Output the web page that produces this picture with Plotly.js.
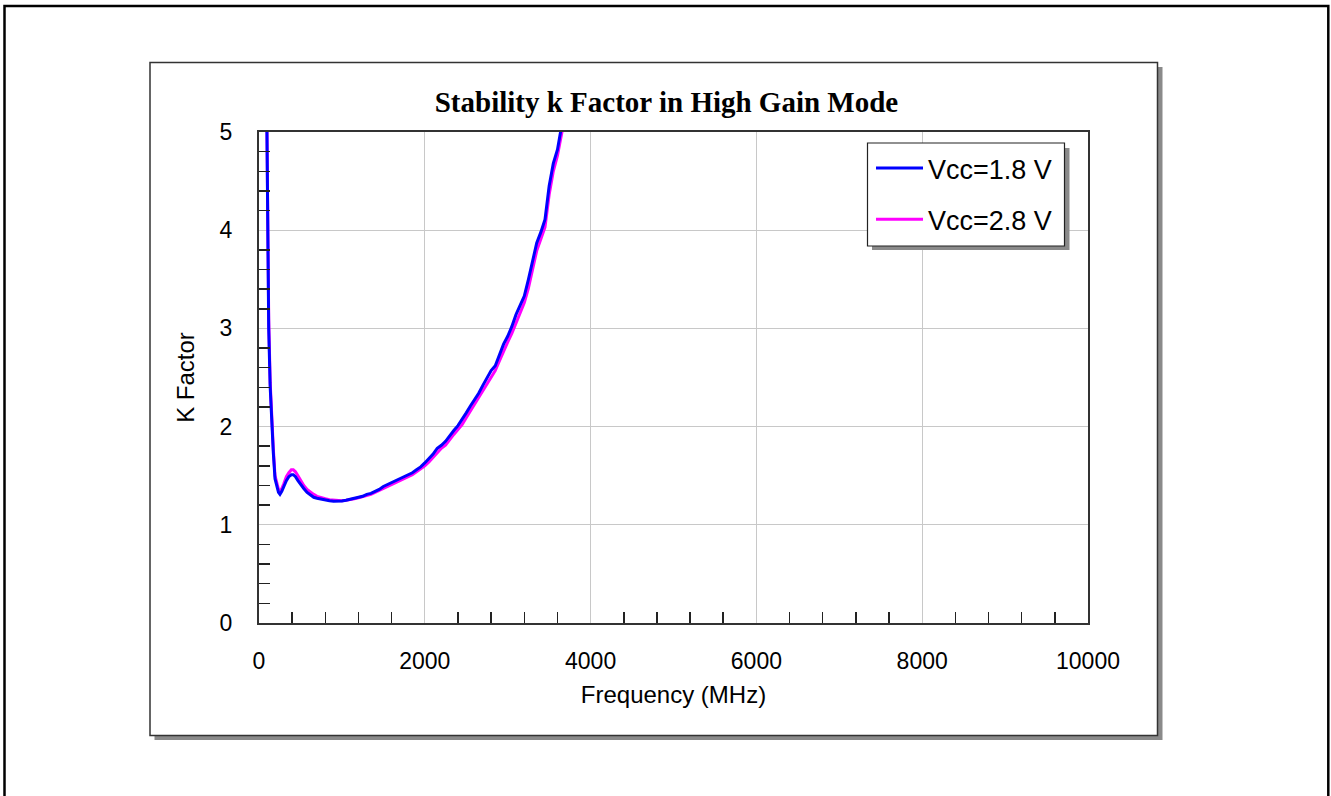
<!DOCTYPE html>
<html>
<head>
<meta charset="utf-8">
<script src="https://cdn.plot.ly/plotly-3.0.1.min.js"></script>
<style>html,body{margin:0;padding:0;background:#fff;}#chart{width:1331px;height:796px;}</style>
</head>
<body>
<div id="chart"></div>
<script>
// Frequency grid (MHz)
const freq = [80, 93, 105, 117, 135, 153, 173, 193, 215, 235, 253, 275, 300, 330, 360, 390, 414, 440, 470, 500,
  540, 580, 620, 660, 700, 750, 800, 850, 900, 950, 1000, 1050, 1100, 1150, 1200, 1250, 1300, 1350, 1400, 1450,
  1500, 1550, 1600, 1650, 1700, 1750, 1800, 1850, 1900, 1950, 2000, 2050, 2100, 2150, 2200, 2250, 2300, 2350,
  2400, 2450, 2500, 2550, 2600, 2650, 2700, 2750, 2800, 2850, 2900, 2950, 3000, 3050, 3100, 3150, 3200, 3250,
  3300, 3350, 3400, 3450, 3500, 3550, 3600, 3650, 3700];

// K factor, Vcc = 1.8 V
const k18 = [6.5, 5.0, 4.0, 3.0, 2.4, 2.0, 1.73, 1.47, 1.38, 1.33, 1.31, 1.34, 1.39, 1.45, 1.49, 1.51, 1.51, 1.49, 1.45, 1.41,
  1.37, 1.33, 1.30, 1.28, 1.27, 1.26, 1.25, 1.245, 1.24, 1.24, 1.243, 1.25, 1.26, 1.27, 1.28, 1.29, 1.31, 1.32, 1.34, 1.36,
  1.39, 1.41, 1.43, 1.45, 1.47, 1.49, 1.51, 1.53, 1.56, 1.59, 1.63, 1.67, 1.72, 1.78, 1.81, 1.85, 1.91, 1.96,
  2.01, 2.07, 2.14, 2.21, 2.27, 2.34, 2.42, 2.49, 2.57, 2.62, 2.74, 2.84, 2.92, 3.02, 3.14, 3.24, 3.33, 3.50,
  3.70, 3.87, 3.98, 4.11, 4.45, 4.68, 4.82, 5.06, 5.3];

// K factor, Vcc = 2.8 V
const k28 = [6.5, 5.1, 4.1, 3.1, 2.45, 2.05, 1.77, 1.50, 1.41, 1.36, 1.34, 1.37, 1.42, 1.49, 1.53, 1.56, 1.56, 1.54, 1.50, 1.45,
  1.40, 1.36, 1.33, 1.31, 1.29, 1.275, 1.265, 1.255, 1.25, 1.245, 1.245, 1.25, 1.255, 1.265, 1.275, 1.285, 1.30, 1.31, 1.33, 1.35,
  1.37, 1.39, 1.41, 1.43, 1.45, 1.47, 1.49, 1.51, 1.54, 1.57, 1.60, 1.64, 1.69, 1.74, 1.78, 1.81, 1.87, 1.92,
  1.97, 2.02, 2.09, 2.16, 2.22, 2.29, 2.36, 2.43, 2.51, 2.57, 2.67, 2.77, 2.86, 2.95, 3.06, 3.17, 3.26, 3.41,
  3.60, 3.79, 3.91, 4.03, 4.36, 4.60, 4.76, 4.98, 5.2];

const seriesNames = ['Vcc=1.8 V', 'Vcc=2.8 V'];
const seriesColors = ['#0000ff', '#ff00ff'];

const titleText = '<b>Stability k Factor in High Gain Mode</b>';
const xTitle = 'Frequency (MHz)';
const yTitle = 'K Factor';

// page geometry helpers (pixel -> paper)
const W = 1331, H = 796;
const L = 259, R = 1088, T = 132, B = 623;
const px = v => (v - L) / (R - L);
const py = v => (B - v) / (B - T);
function rect(x0, y0, x1, y1, opts) {
  return Object.assign({type: 'rect', xref: 'paper', yref: 'paper',
    x0: px(x0), x1: px(x1), y0: py(y0), y1: py(y1)}, opts);
}

const traces = [
  {x: freq, y: k28, type: 'scatter', mode: 'lines', name: seriesNames[1],
   line: {color: seriesColors[1], width: 3}, legendgroup: 'b', legendrank: 2},
  {x: freq, y: k18, type: 'scatter', mode: 'lines', name: seriesNames[0],
   line: {color: seriesColors[0], width: 3}, legendgroup: 'a', legendrank: 1}
];

const tickFont = {family: 'Liberation Sans, Arial, sans-serif', size: 23, color: '#000'};
const titleFont = {family: 'Liberation Sans, Arial, sans-serif', size: 24, color: '#000'};

const layout = {
  width: W, height: H,
  margin: {l: L, r: W - R, t: T, b: H - B, pad: 0},
  paper_bgcolor: '#fff', plot_bgcolor: 'rgba(0,0,0,0)',
  title: {text: titleText, font: {family: 'Liberation Serif, Times New Roman, serif', size: 29, color: '#000'},
    xref: 'container', yref: 'container', x: 666.5 / W, xanchor: 'center', y: 1 - 102 / H, yanchor: 'middle'},
  showlegend: true,
  legend: {x: px(871), xanchor: 'left', y: py(144), yanchor: 'top', bgcolor: 'rgba(0,0,0,0)', borderwidth: 0,
    font: {family: 'Liberation Sans, Arial, sans-serif', size: 27, color: '#000'},
    traceorder: 'grouped', tracegroupgap: 13, itemwidth: 47},
  xaxis: {range: [0, 10000], tickmode: 'linear', tick0: 0, dtick: 2000, ticks: '', showgrid: true,
    tickformat: 'd', exponentformat: 'none', separatethousands: false,
    gridcolor: '#c8c8c8', gridwidth: 1, zeroline: false, showline: true, linecolor: '#333', linewidth: 2, mirror: true,
    tickfont: tickFont, ticklabelstandoff: 16,
    minor: {dtick: 400, tick0: 0, ticks: 'inside', ticklen: 11, tickcolor: '#222', tickwidth: 1.5, showgrid: false},
    title: {text: xTitle, font: titleFont, standoff: 14}},
  yaxis: {range: [0, 5], tickmode: 'linear', tick0: 0, dtick: 1, ticks: '', showgrid: true,
    gridcolor: '#c8c8c8', gridwidth: 1, zeroline: false, showline: true, linecolor: '#333', linewidth: 2, mirror: true,
    tickfont: tickFont, ticklabelstandoff: 20,
    minor: {dtick: 0.2, tick0: 0, ticks: 'inside', ticklen: 11, tickcolor: '#222', tickwidth: 1.5, showgrid: false},
    title: {text: yTitle, font: titleFont, standoff: 18}},
  shapes: [
    // outer border
    rect(4.5, 6, 1328.3, 812, {line: {color: '#000', width: 2.5}, fillcolor: 'rgba(0,0,0,0)', layer: 'below'}),
    // inner frame shadow + frame
    rect(154.5, 67, 1162.5, 740, {line: {width: 0}, fillcolor: '#8a8a8a', layer: 'below'}),
    rect(150, 62.5, 1157.5, 735.5, {line: {color: '#333', width: 1.5}, fillcolor: '#fff', layer: 'below'}),
    // legend shadow + box
    rect(872, 148, 1069.5, 250, {line: {width: 0}, fillcolor: '#8a8a8a', layer: 'above'}),
    rect(867.5, 143, 1064.5, 246, {line: {color: '#222', width: 1.2}, fillcolor: '#fff', layer: 'above'})
  ]
};

Plotly.newPlot('chart', traces, layout, {displayModeBar: false, staticPlot: true});
</script>
</body>
</html>
